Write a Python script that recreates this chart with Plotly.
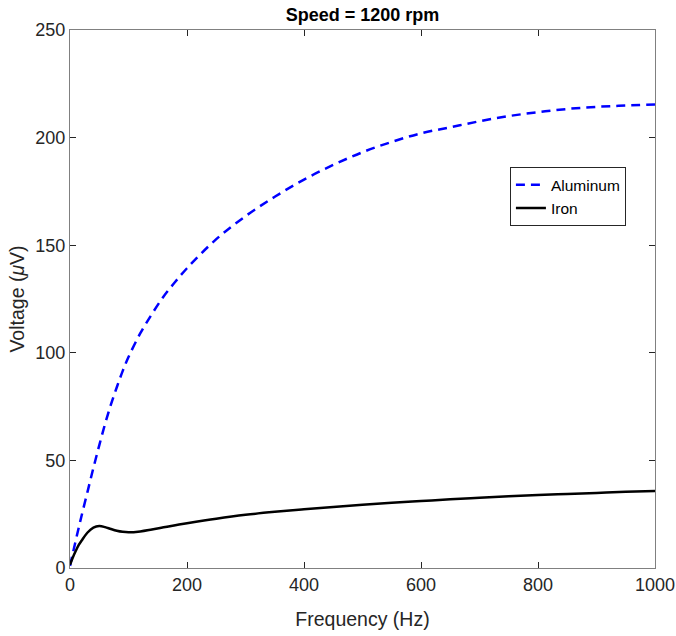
import plotly.graph_objects as go

freq = [0, 5, 10, 15, 20, 30, 40, 50, 60, 70, 80, 90, 100, 120, 140, 160, 180, 200,
        250, 300, 350, 400, 450, 500, 550, 600, 650, 700, 750, 800, 850, 900, 950, 1000]

aluminum = [1, 7, 13, 18.8, 24.5, 35.5, 46.5, 57, 67, 76, 84, 91.5, 98, 109, 118, 126.2, 133, 139.3,
            152.8, 163.5, 172.5, 180.5, 187.3, 193.2, 198, 202, 204.8, 207.6, 210, 211.8, 213.3, 214.3, 214.9, 215.4]

iron = [1.5, 5, 8, 10.7, 12.8, 16.5, 18.8, 19.5, 19.0, 18.1, 17.3, 16.8, 16.6, 17.0, 17.9, 18.9, 19.9, 20.8,
        22.9, 24.7, 26.1, 27.3, 28.4, 29.4, 30.3, 31.1, 31.9, 32.6, 33.3, 33.9, 34.4, 34.9, 35.4, 35.8]

x_ticks = [0, 200, 400, 600, 800, 1000]
y_ticks = [0, 50, 100, 150, 200, 250]

txt = "rgb(38,38,38)"
axc = "rgb(128,128,128)"
fnt = "Liberation Sans, Arial, Helvetica, sans-serif"

fig = go.Figure()
fig.add_trace(go.Scatter(x=freq, y=aluminum, mode="lines", name="Aluminum",
                         line=dict(color="rgb(0,0,255)", width=2.5, dash="9px,6px", shape="spline")))
fig.add_trace(go.Scatter(x=freq, y=iron, mode="lines", name="Iron",
                         line=dict(color="black", width=2.5, shape="spline")))

fig.update_layout(
    width=676, height=636,
    margin=dict(l=70, r=21, t=30, b=68),
    paper_bgcolor="white", plot_bgcolor="white",
    font=dict(family=fnt, color=txt, size=18),
    title=dict(text="<b>Speed = 1200 rpm</b>", x=(70 + 655) / 2 / 676, xanchor="center",
               y=1 - 15 / 636, yanchor="middle", font=dict(size=18, color="black", family=fnt)),
    showlegend=True,
    legend=dict(x=0.752, y=0.745, xanchor="left", yanchor="top",
                bordercolor="rgb(38,38,38)", borderwidth=1, bgcolor="white",
                font=dict(size=15.5, color="black", family=fnt), tracegroupgap=0,
                itemwidth=30),
)
fig.update_xaxes(range=[0, 1000], tickvals=x_ticks, ticks="inside", ticklen=6, tickcolor=txt,
                 showline=True, linecolor=axc, linewidth=1, mirror="ticks", showgrid=False,
                 zeroline=False, automargin=False,
                 title=dict(text="Frequency (Hz)", font=dict(size=19.5), standoff=18),
                 tickfont=dict(size=18))
fig.update_yaxes(range=[0, 250], tickvals=y_ticks, ticks="inside", ticklen=6, tickcolor=txt,
                 showline=True, linecolor=axc, linewidth=1, mirror="ticks", showgrid=False,
                 zeroline=False, automargin=False,
                 title=dict(text="Voltage (<i>μ</i>V)", font=dict(size=19.5), standoff=5),
                 tickfont=dict(size=18))

fig.write_html("out.html")
